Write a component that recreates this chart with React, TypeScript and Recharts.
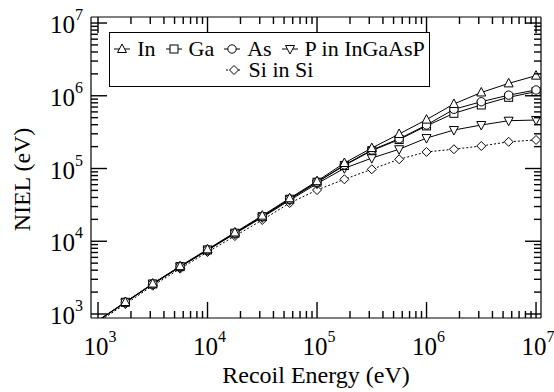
import { LineChart, Line, XAxis, YAxis, Legend } from "recharts";

// recoil energies (eV), markers every quarter decade
const energies = [
  1000, 1778, 3162, 5623, 10000, 17783, 31623, 56234, 100000, 177828, 316228,
  562341, 1000000, 1778279, 3162278, 5623413, 10000000,
];

// NIEL (eV)
const inNiel = [
  815, 1460, 2620, 4550, 7750, 13200, 22500, 39000, 67000, 119000, 191000,
  298000, 470000, 771000, 1110000, 1480000, 1890000,
];
const gaNiel = [
  810, 1450, 2590, 4480, 7600, 12900, 21800, 37800, 64800, 110000, 176000,
  250000, 385000, 574000, 747000, 953000, 1140000,
];
const asNiel = [
  810, 1450, 2590, 4480, 7620, 12950, 21900, 38000, 65000, 112000, 180000,
  256000, 396000, 652000, 828000, 1020000, 1200000,
];
const pNiel = [
  805, 1440, 2570, 4430, 7500, 12700, 21300, 36500, 62000, 100700, 139000,
  184000, 262000, 338000, 396000, 454000, 464000,
];
const siNiel = [
  775, 1370, 2450, 4200, 7100, 11800, 19600, 33500, 50600, 71100, 97500,
  134000, 169000, 184000, 204000, 233000, 247000,
];

const decadeTicks = [1e3, 1e4, 1e5, 1e6, 1e7];
const minorSteps = [2, 3, 4, 5, 6, 7, 8, 9];

// drawing order (Si at the back)
const series = [
  { key: "Si", name: "Si in Si", shape: "diamond", dash: "2 2" },
  { key: "P", name: "P in InGaAsP", shape: "triDown" },
  { key: "Ga", name: "Ga", shape: "square" },
  { key: "As", name: "As", shape: "circle" },
  { key: "In", name: "In", shape: "triUp" },
];
const legendRows = [["In", "Ga", "As", "P"], ["Si"]];

const data = energies.map((e, i) => ({
  energy: e,
  In: inNiel[i],
  Ga: gaNiel[i],
  As: asNiel[i],
  P: pNiel[i],
  Si: siNiel[i],
}));

const allTicks = decadeTicks.flatMap((d) =>
  d === 1e7 ? [d] : [d, ...minorSteps.map((m) => m * d)]
);

const X_DOMAIN = [863, 1.11e7];
const Y_DOMAIN = [881, 1.21e7];
const FONT = "'Liberation Serif', 'Times New Roman', serif";

// plot frame
const W = 554;
const H = 392;
const MARGIN = { top: 16, right: 12, bottom: 73, left: 90 };
const FRAME = { left: 91, right: 541, top: 17, bottom: 318 };

const isDecade = (v: number) =>
  Math.abs(Math.log10(v) - Math.round(Math.log10(v))) < 1e-6;

const Marker = ({ shape, cx, cy }: { shape: string; cx: number; cy: number }) => {
  const common = { fill: "#fff", stroke: "#000", strokeWidth: 1 };
  if (shape === "triUp")
    return <polygon points={`${cx},${cy - 5} ${cx + 4.5},${cy + 3.5} ${cx - 4.5},${cy + 3.5}`} {...common} />;
  if (shape === "triDown")
    return <polygon points={`${cx},${cy + 5} ${cx + 4.5},${cy - 3.5} ${cx - 4.5},${cy - 3.5}`} {...common} />;
  if (shape === "square") return <rect x={cx - 4} y={cy - 4} width={8} height={8} {...common} />;
  if (shape === "circle") return <circle cx={cx} cy={cy} r={4.2} {...common} />;
  return <polygon points={`${cx},${cy - 4.5} ${cx + 4.5},${cy} ${cx},${cy + 4.5} ${cx - 4.5},${cy}`} {...common} />;
};

const makeDot = (shape: string) => (props: any) => {
  const { cx, cy, index } = props;
  if (index === 0 || cx == null || cy == null) return <g key={`d-${index}`} />;
  return (
    <g key={`d-${index}`}>
      <Marker shape={shape} cx={cx} cy={cy} />
    </g>
  );
};

// inward ticks on every side, decade labels on bottom and left
const renderTick = (side: string) => (props: any) => {
  const v = props.payload.value;
  const major = isDecade(v);
  const len = major ? 16 : 7;
  const exp = Math.round(Math.log10(v));
  let d = "";
  let label = null;
  if (side === "bottom" || side === "top") {
    const x = Number(props.x);
    const y = side === "bottom" ? FRAME.bottom : FRAME.top;
    d = side === "bottom" ? `M${x},${y}V${y - len}` : `M${x},${y}V${y + len}`;
    if (major && side === "bottom")
      label = (
        <text x={x + 2} y={y + 37} textAnchor="middle" fontFamily={FONT} fontSize={25} fill="#000" stroke="none">
          10<tspan dy={-13} fontSize={16}>{exp}</tspan>
        </text>
      );
  } else {
    const y = Number(props.y);
    const x = side === "left" ? FRAME.left : FRAME.right;
    d = side === "left" ? `M${x},${y}H${x + len}` : `M${x},${y}H${x - len}`;
    if (major && side === "left")
      label = (
        <text x={x - 8} y={y + 10} textAnchor="end" fontFamily={FONT} fontSize={25} fill="#000" stroke="none">
          10<tspan dy={-13} fontSize={16}>{exp}</tspan>
        </text>
      );
  }
  return (
    <g>
      <path d={d} stroke="#000" strokeWidth={1.4} fill="none" />
      {label}
    </g>
  );
};

const LegendBox = () => (
  <div
    style={{
      width: 321,
      height: 55,
      boxSizing: "border-box",
      border: "1px solid #000",
      background: "#fff",
      paddingTop: 5,
      fontFamily: FONT,
      fontSize: 22,
      color: "#000",
    }}
  >
    {legendRows.map((row, ri) => (
      <div
        key={ri}
        style={{ display: "flex", justifyContent: "center", alignItems: "center", height: 21, lineHeight: "21px", gap: 10 }}
      >
        {row.map((k) => {
          const s = series.find((it) => it.key === k)!;
          return (
            <div key={k} style={{ display: "flex", alignItems: "center" }}>
              <svg width={16} height={12} style={{ overflow: "visible" }}>
                <line x1={0} y1={6} x2={16} y2={6} stroke="#000" strokeDasharray={s.dash} />
                <Marker shape={s.shape} cx={8} cy={6} />
              </svg>
              <span style={{ marginLeft: 7, whiteSpace: "nowrap" }}>{s.name}</span>
            </div>
          );
        })}
      </div>
    ))}
  </div>
);

const axisCommon = {
  type: "number" as const,
  scale: "log" as const,
  allowDataOverflow: true,
  ticks: allTicks,
  interval: 0,
  tickSize: 8,
  tickMargin: 0,
  tickLine: { stroke: "#fff", strokeOpacity: 0 },
  axisLine: { stroke: "#000", strokeWidth: 1.2 },
};

const NielChart = () => {
  return (
    <div style={{ position: "absolute", left: 0, top: 0, background: "#fff" }}>
      <LineChart width={W} height={H} data={data} margin={MARGIN}>
        <XAxis
          {...axisCommon}
          dataKey="energy"
          domain={X_DOMAIN}
          height={1}
          tick={renderTick("bottom")}
          label={{
            content: (p: any) => {
              const { x, y, width } = p.viewBox;
              return (
                <text x={x + width / 2} y={y + 65} textAnchor="middle" fontFamily={FONT} fontSize={24} fill="#000">
                  Recoil Energy (eV)
                </text>
              );
            },
          }}
        />
        <XAxis {...axisCommon} xAxisId="top" orientation="top" dataKey="energy" domain={X_DOMAIN} height={1} tick={renderTick("top")} />
        <YAxis
          {...axisCommon}
          domain={Y_DOMAIN}
          width={1}
          tick={renderTick("left")}
          label={{
            content: (p: any) => {
              const { x, y, height } = p.viewBox;
              const cx = x - 68;
              const cy = y + height / 2 + 12;
              return (
                <text
                  x={cx}
                  y={cy}
                  transform={`rotate(-90, ${cx}, ${cy})`}
                  textAnchor="middle"
                  dominantBaseline="central"
                  fontFamily={FONT}
                  fontSize={24}
                  fill="#000"
                >
                  NIEL (eV)
                </text>
              );
            },
          }}
        />
        <YAxis {...axisCommon} yAxisId="right" orientation="right" domain={Y_DOMAIN} width={1} tick={renderTick("right")} />
        <Legend
          layout="horizontal"
          verticalAlign="middle"
          align="center"
          wrapperStyle={{ left: 109, top: 32, width: 321 }}
          content={() => <LegendBox />}
        />
        {series.map((s) => (
          <Line
            key={s.key}
            dataKey={s.key}
            name={s.name}
            type="linear"
            stroke="#000"
            strokeWidth={1}
            strokeDasharray={s.dash}
            dot={makeDot(s.shape)}
            activeDot={false}
            isAnimationActive={false}
          />
        ))}
      </LineChart>
    </div>
  );
};

export default NielChart;
